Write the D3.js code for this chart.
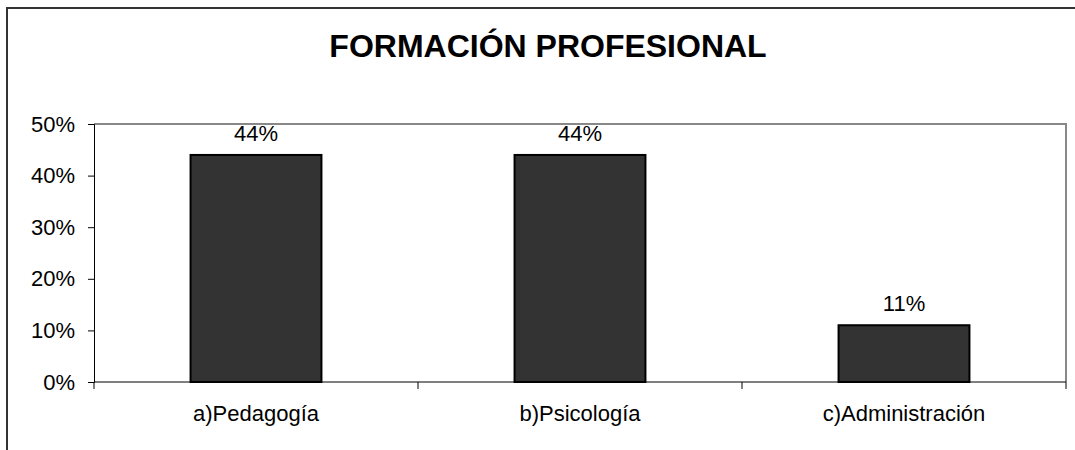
<!DOCTYPE html>
<html>
<head>
<meta charset="utf-8">
<script src="https://cdn.jsdelivr.net/npm/d3@7"></script>
<style>
  body { margin: 0; background: #fff; }
  svg { display: block; font-family: Arial, "Liberation Sans", sans-serif; }
</style>
</head>
<body>
<div id="chart"></div>
<script>
// chart data
const categories = ['a)Pedagogía', 'b)Psicología', 'c)Administración'];
const values = [0.44, 0.44, 0.11];
const valueLabels = ['44%', '44%', '11%'];
const yTicks = [0, 0.1, 0.2, 0.3, 0.4, 0.5];
const title = 'FORMACIÓN PROFESIONAL';

const W = 1075, H = 450;
const margin = {top: 124, right: 9, bottom: 68, left: 94};
const fs = 22;

const svg = d3.select('#chart').append('svg')
  .attr('width', W)
  .attr('height', H);

// outer frame (runs off the right and bottom edges)
svg.append('path')
  .attr('d', `M7,${H + 5} L7,8 L${W + 5},8`)
  .attr('fill', 'none')
  .attr('stroke', '#333')
  .attr('stroke-width', 2);

svg.append('text')
  .attr('x', 548)
  .attr('y', 57)
  .attr('text-anchor', 'middle')
  .attr('font-size', 32)
  .attr('font-weight', 'bold')
  .text(title);

const x = d3.scaleBand()
  .domain(categories)
  .range([margin.left, W - margin.right])
  .paddingInner(0.596)
  .paddingOuter(0.298);

const y = d3.scaleLinear()
  .domain([0, 0.5])
  .range([H - margin.bottom, margin.top]);

// plot area border (top/right gray)
svg.append('path')
  .attr('d', `M${margin.left},${margin.top} L${W - margin.right},${margin.top} L${W - margin.right},${H - margin.bottom}`)
  .attr('fill', 'none')
  .attr('stroke', '#888')
  .attr('stroke-width', 2);

// bars
svg.selectAll('.bar')
  .data(values)
  .enter().append('rect')
  .classed('bar', true)
  .attr('x', (d, i) => x(categories[i]))
  .attr('y', d => y(d))
  .attr('width', x.bandwidth())
  .attr('height', d => y(0) - y(d))
  .attr('fill', '#333')
  .attr('stroke', '#000')
  .attr('stroke-width', 2);

// value labels
svg.selectAll('.vlabel')
  .data(values)
  .enter().append('text')
  .classed('vlabel', true)
  .attr('x', (d, i) => x(categories[i]) + x.bandwidth() / 2)
  .attr('y', d => y(d) - 14)
  .attr('text-anchor', 'middle')
  .attr('font-size', fs)
  .text((d, i) => valueLabels[i]);

// y axis
const yAxis = d3.axisLeft(y)
  .tickValues(yTicks)
  .tickFormat(d3.format('.0%'))
  .tickSize(6)
  .tickPadding(13);
const gy = svg.append('g')
  .attr('transform', `translate(${margin.left},0)`)
  .call(yAxis);
gy.select('.domain').attr('stroke', '#000');
gy.selectAll('text').attr('font-size', fs).attr('fill', '#000')
  .attr('font-family', 'Arial, "Liberation Sans", sans-serif');

// x axis: baseline with ticks at category boundaries
const gx = svg.append('g')
  .attr('transform', `translate(0,${y(0)})`);
gx.append('line')
  .attr('x1', margin.left).attr('x2', W - margin.right)
  .attr('stroke', '#000');
const bounds = categories.map(c => x(c) - (x.step() - x.bandwidth()) / 2)
  .concat([W - margin.right]);
gx.selectAll('.xtick')
  .data(bounds)
  .enter().append('line')
  .attr('x1', d => d).attr('x2', d => d)
  .attr('y1', 0).attr('y2', 7)
  .attr('stroke', '#000');
gx.selectAll('.xlabel')
  .data(categories)
  .enter().append('text')
  .attr('x', d => x(d) + x.bandwidth() / 2)
  .attr('y', 39)
  .attr('text-anchor', 'middle')
  .attr('font-size', fs)
  .text(d => d);
</script>
</body>
</html>
